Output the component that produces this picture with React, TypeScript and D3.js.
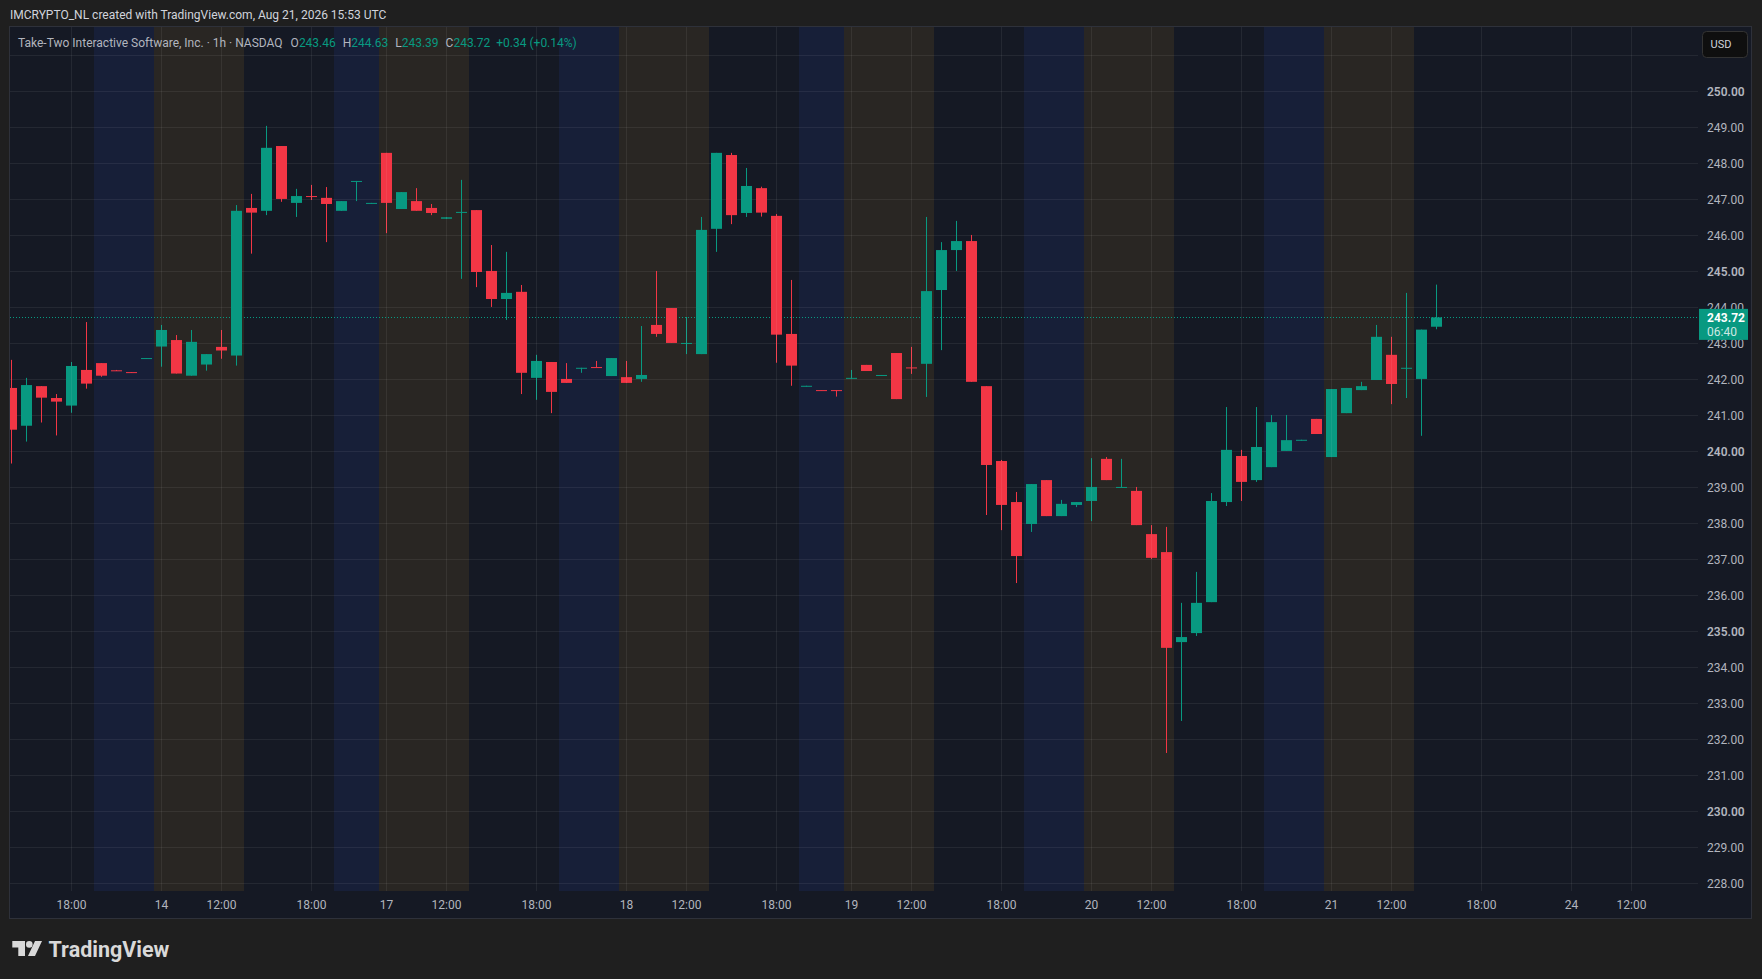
// @ts-nocheck
import React, { useEffect, useRef } from "react";
import { select, scaleLinear, range } from "d3";

// hourly bars, index 0 = Aug 13 14:00 UTC, last = Aug 21 15:00 UTC
const opens = [
  241.76, 240.71, 241.81, 241.48, 241.27, 242.26, 242.45, 242.25, 242.2, 242.57,
  242.91, 243.09, 242.1, 242.41, 242.9, 242.66, 246.76, 246.68, 248.48, 246.9,
  247.09, 247.04, 246.68, 247.5, 246.88, 248.29, 246.73, 246.95, 246.76, 246.46,
  246.64, 246.7, 245.01, 244.23, 244.43, 242.04, 242.48, 242.01, 242.31, 242.34,
  242.09, 242.06, 242.01, 243.51, 243.98, 243.0, 242.7, 246.18, 248.23, 246.62,
  247.31, 246.54, 243.26, 241.8, 241.7, 241.7, 242.03, 242.4, 242.1, 242.73,
  242.33, 242.43, 244.48, 245.59, 245.84, 241.81, 239.73, 238.59, 237.98, 239.2,
  238.2, 238.51, 238.62, 239.79, 239.0, 238.9, 237.7, 237.2, 234.7, 234.95,
  235.81, 238.59, 239.87, 239.2, 239.56, 240.01, 240.3, 240.9, 239.84, 241.06,
  241.7, 241.98, 242.68, 242.3, 242.01, 243.46,
];
const highs = [
  242.54, 242.04, 241.81, 241.59, 242.48, 243.59, 242.45, 242.26, 242.2, 242.59,
  243.51, 243.23, 243.37, 242.7, 243.37, 246.84, 247.15, 249.04, 248.48, 247.29,
  247.4, 247.34, 246.95, 247.51, 246.9, 248.29, 247.2, 247.31, 246.87, 246.5,
  247.54, 246.7, 245.73, 245.54, 244.62, 242.68, 242.48, 242.45, 242.32, 242.51,
  242.59, 242.51, 243.48, 245.01, 243.98, 243.73, 246.51, 248.29, 248.29, 247.87,
  247.35, 246.59, 244.76, 241.82, 241.7, 241.7, 242.26, 242.4, 242.12, 242.73,
  242.9, 246.51, 245.81, 246.4, 246.01, 241.81, 239.76, 238.87, 239.09, 239.2,
  238.65, 238.59, 239.81, 239.84, 239.79, 239.01, 237.95, 237.9, 235.79, 236.65,
  238.84, 241.23, 240.04, 241.23, 241.01, 241.01, 240.32, 240.9, 241.73, 241.76,
  241.93, 243.51, 243.18, 244.4, 243.38, 244.63,
];
const lows = [
  239.66, 240.27, 240.8, 240.44, 241.07, 241.74, 242.07, 242.23, 242.18, 242.57,
  242.35, 242.16, 242.1, 242.24, 242.57, 242.38, 245.49, 246.56, 246.93, 246.51,
  246.98, 245.81, 246.68, 246.95, 246.88, 246.06, 246.73, 246.68, 246.56, 246.46,
  244.79, 244.56, 244.01, 243.65, 241.59, 241.43, 241.06, 241.9, 242.18, 242.33,
  242.09, 241.9, 241.93, 243.18, 243.01, 242.7, 242.7, 245.54, 246.31, 246.51,
  246.52, 242.46, 241.82, 241.8, 241.69, 241.52, 242.03, 242.23, 242.1, 241.45,
  242.15, 241.51, 242.81, 245.01, 241.93, 238.23, 237.81, 236.34, 237.76, 238.2,
  238.2, 238.45, 238.06, 239.2, 239.0, 237.95, 237.01, 231.62, 232.51, 234.87,
  235.81, 238.48, 238.62, 239.15, 239.56, 240.01, 240.3, 240.48, 239.84, 241.06,
  241.7, 241.98, 241.31, 241.48, 240.43, 243.39,
];
const closes = [
  240.6, 241.84, 241.49, 241.38, 242.37, 241.88, 242.1, 242.23, 242.18, 242.59,
  243.37, 242.16, 243.04, 242.7, 242.8, 246.68, 246.63, 248.43, 247.01, 247.09,
  247.07, 246.87, 246.95, 247.51, 246.9, 246.9, 247.2, 246.68, 246.62, 246.5,
  246.65, 244.98, 244.23, 244.4, 242.18, 242.51, 241.65, 241.9, 242.32, 242.33,
  242.59, 241.9, 242.12, 243.26, 243.01, 243.01, 246.15, 248.29, 246.56, 247.37,
  246.63, 243.24, 242.38, 241.82, 241.69, 241.68, 242.04, 242.23, 242.12, 241.45,
  242.32, 244.45, 245.59, 245.84, 241.93, 239.62, 238.51, 237.09, 239.09, 238.2,
  238.54, 238.59, 239.01, 239.2, 239.01, 237.95, 237.04, 234.54, 234.84, 235.79,
  238.62, 240.04, 239.15, 240.12, 240.81, 240.31, 240.32, 240.48, 241.73, 241.76,
  241.81, 243.18, 241.87, 242.32, 243.38, 243.72,
];

// session shading: [first bar, last bar, kind]
const sessions = [
  [6, 9, "post"], [10, 15, "pre"], [22, 24, "post"], [25, 30, "pre"],
  [37, 40, "post"], [41, 46, "pre"], [53, 55, "post"], [56, 61, "pre"],
  [68, 71, "post"], [72, 77, "pre"], [84, 87, "post"], [88, 93, "pre"],
];

const timeTicks = [
  [4, "18:00"], [10, "14"], [14, "12:00"], [20, "18:00"], [25, "17"],
  [29, "12:00"], [35, "18:00"], [41, "18"], [45, "12:00"], [51, "18:00"],
  [56, "19"], [60, "12:00"], [66, "18:00"], [72, "20"], [76, "12:00"],
  [82, "18:00"], [88, "21"], [92, "12:00"], [98, "18:00"], [104, "24"],
  [108, "12:00"],
];

const priceTicks = range(228, 251);
const gridPrices = range(228, 252);

const UP = "#089981";
const DOWN = "#F23645";
const FONT = "Roboto, 'Open Sans', sans-serif";

export default function App() {
  const ref = useRef(null);

  useEffect(() => {
    document.body.style.margin = "0";
    const svg = select(ref.current);
    svg.selectAll("*").remove();

    const left = 10;
    const right = 1698;
    const top = 27;
    const bottom = 891;

    const x = scaleLinear().domain([0, 100]).range([11.5, 1511.5]);
    const y = scaleLinear().domain([228, 250]).range([883.3, 91.3]);

    svg.append("rect").attr("width", 1762).attr("height", 979).attr("fill", "#1f1f1f");

    // header
    svg
      .append("text")
      .attr("x", 10)
      .attr("y", 19.3)
      .attr("font-size", 12)
      .attr("font-family", FONT)
      .attr("fill", "#d1d4dc")
      .text("IMCRYPTO_NL created with TradingView.com, Aug 21, 2026 15:53 UTC");

    // panel
    svg
      .append("rect")
      .attr("x", 9.5)
      .attr("y", 26.5)
      .attr("width", 1742)
      .attr("height", 892)
      .attr("fill", "#151924")
      .attr("stroke", "#2e313a");

    svg
      .append("clipPath")
      .attr("id", "plot")
      .append("rect")
      .attr("x", left)
      .attr("y", top)
      .attr("width", right - left)
      .attr("height", bottom - top);

    const plot = svg.append("g").attr("clip-path", "url(#plot)");

    // session backgrounds
    plot
      .selectAll("rect.sess")
      .data(sessions)
      .join("rect")
      .attr("class", "sess")
      .attr("x", (d) => x(d[0] - 0.5))
      .attr("width", (d) => x(d[1] + 0.5) - x(d[0] - 0.5))
      .attr("y", top)
      .attr("height", bottom - top)
      .attr("fill", (d) => (d[2] === "pre" ? "#292623" : "#171f38"));

    // grid
    plot
      .selectAll("line.hg")
      .data(gridPrices)
      .join("line")
      .attr("x1", left)
      .attr("x2", right)
      .attr("y1", (d) => Math.round(y(d)) + 0.5)
      .attr("y2", (d) => Math.round(y(d)) + 0.5)
      .attr("stroke", "rgba(255,255,255,0.065)");
    svg
      .selectAll("line.vg")
      .data(timeTicks)
      .join("line")
      .attr("x1", (d) => x(d[0]))
      .attr("x2", (d) => x(d[0]))
      .attr("y1", top)
      .attr("y2", bottom)
      .attr("stroke", "rgba(255,255,255,0.065)");

    // current price line
    const last = closes.length - 1;
    plot
      .append("line")
      .attr("x1", left)
      .attr("x2", right)
      .attr("y1", Math.round(y(closes[last])) + 0.5)
      .attr("y2", Math.round(y(closes[last])) + 0.5)
      .attr("stroke", UP)
      .attr("stroke-dasharray", "1 2");

    // candles
    const idx = range(closes.length);
    const col = (i) => (closes[i] >= opens[i] ? UP : DOWN);
    plot
      .selectAll("line.wick")
      .data(idx)
      .join("line")
      .attr("x1", (i) => x(i))
      .attr("x2", (i) => x(i))
      .attr("y1", (i) => y(highs[i]))
      .attr("y2", (i) => y(lows[i]))
      .attr("stroke", col);
    plot
      .selectAll("rect.body")
      .data(idx)
      .join("rect")
      .attr("x", (i) => x(i) - 5.5)
      .attr("width", 11)
      .attr("y", (i) => y(Math.max(opens[i], closes[i])))
      .attr("height", (i) => Math.max(1, Math.abs(y(opens[i]) - y(closes[i]))))
      .attr("fill", col);

    // price axis
    svg
      .selectAll("text.pt")
      .data(priceTicks)
      .join("text")
      .attr("x", 1707)
      .attr("y", (d) => y(d))
      .attr("dy", "0.35em")
      .attr("font-size", 12)
      .attr("font-family", FONT)
      .attr("font-weight", (d) => (d % 5 === 0 ? 600 : 400))
      .attr("fill", "#b2b5be")
      .text((d) => d.toFixed(2));

    // time axis
    svg
      .selectAll("text.tt")
      .data(timeTicks)
      .join("text")
      .attr("x", (d) => x(d[0]))
      .attr("y", 908.5)
      .attr("text-anchor", "middle")
      .attr("font-size", 12)
      .attr("font-family", FONT)
      .attr("fill", "#b2b5be")
      .text((d) => d[1]);

    // last price label
    const py = y(closes[last]);
    svg
      .append("rect")
      .attr("x", 1699)
      .attr("y", py - 8.5)
      .attr("width", 49)
      .attr("height", 31)
      .attr("fill", UP);
    svg
      .append("text")
      .attr("x", 1707)
      .attr("y", py + 5)
      .attr("font-size", 12)
      .attr("font-weight", 700)
      .attr("font-family", FONT)
      .attr("fill", "#ffffff")
      .text(closes[last].toFixed(2));
    svg
      .append("text")
      .attr("x", 1707)
      .attr("y", py + 18.5)
      .attr("font-size", 12)
      .attr("font-family", FONT)
      .attr("fill", "rgba(255,255,255,0.8)")
      .text("06:40");

    // USD button
    svg
      .append("rect")
      .attr("x", 1702.5)
      .attr("y", 31.5)
      .attr("width", 45)
      .attr("height", 26)
      .attr("rx", 4)
      .attr("fill", "#0f0f0f")
      .attr("stroke", "#333333");
    svg
      .append("text")
      .attr("x", 1721)
      .attr("y", 48)
      .attr("text-anchor", "middle")
      .attr("font-size", 11)
      .attr("font-family", FONT)
      .attr("fill", "#d1d4dc")
      .text("USD");

    // legend: one flowing line of tspans
    const chg = closes[last] - closes[last - 1];
    const leg = svg
      .append("text")
      .attr("x", 18)
      .attr("y", 46.5)
      .attr("font-size", 12)
      .attr("font-family", FONT)
      .attr("fill", "#b2b5be");
    leg.append("tspan").text("Take-Two Interactive Software, Inc. · 1h · NASDAQ");
    const ohlc = [
      ["O", opens[last]],
      ["H", highs[last]],
      ["L", lows[last]],
      ["C", closes[last]],
    ];
    ohlc.forEach(([k, v], j) => {
      leg.append("tspan").attr("dx", j === 0 ? 8 : 7).text(k);
      leg.append("tspan").attr("fill", UP).text(v.toFixed(2));
    });
    leg
      .append("tspan")
      .attr("dx", 6)
      .attr("fill", UP)
      .text(`+${chg.toFixed(2)} (+${((chg / closes[last - 1]) * 100).toFixed(2)}%)`);

    // TradingView logo
    const logo = svg.append("g").attr("fill", "#d9d9d9");
    logo.append("path").attr("d", "M12.3,941 H25 V956 H18.3 V947.5 H12.3 Z");
    logo.append("circle").attr("cx", 29.3).attr("cy", 944.4).attr("r", 3.3);
    logo.append("path").attr("d", "M35,941 H42 L35,956 H28 Z");
    logo
      .append("text")
      .attr("x", 48.5)
      .attr("y", 956.5)
      .attr("font-size", 21.5)
      .attr("font-weight", 700)
      .attr("font-family", FONT)
      .text("TradingView");
  }, []);

  return <svg ref={ref} width={1762} height={979} style={{ display: "block" }} />;
}
